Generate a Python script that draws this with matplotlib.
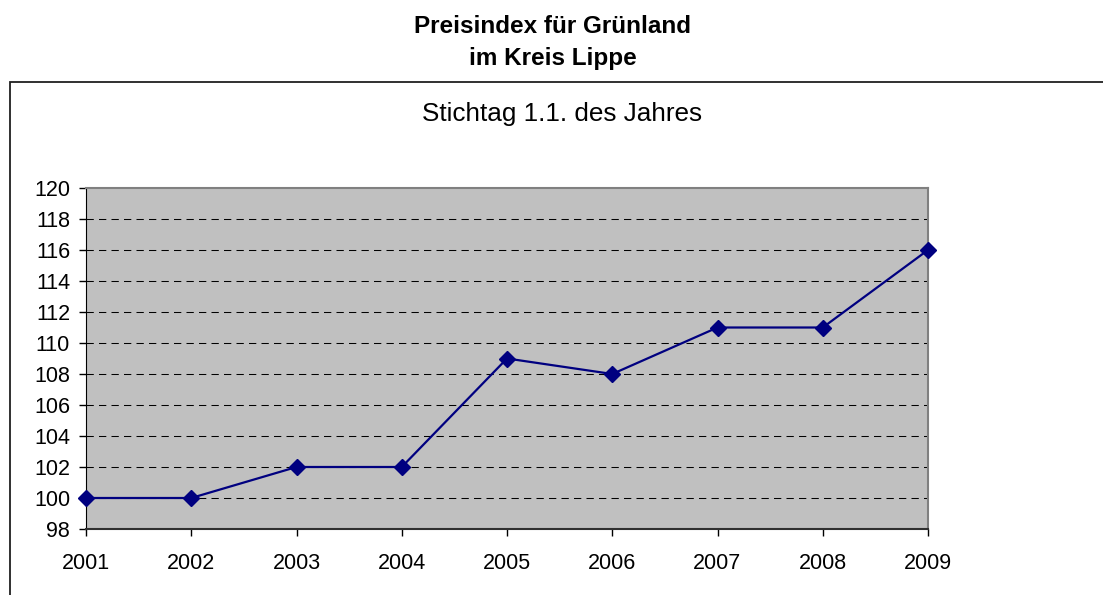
import matplotlib.pyplot as plt
from matplotlib.patches import Rectangle

# Data
years = [2001, 2002, 2003, 2004, 2005, 2006, 2007, 2008, 2009]
index_values = [100, 100, 102, 102, 109, 108, 111, 111, 116]
y_ticks = list(range(98, 121, 2))

plt.rcParams["font.family"] = ["Liberation Sans", "DejaVu Sans"]

W, H = 1103, 595
fig = plt.figure(figsize=(W / 100, H / 100), dpi=100)

# chart frame (runs off the right and bottom edges)
frame = Rectangle((10 / W, -0.1), 1.2, 0.1 + 1 - 82 / H,
                  transform=fig.transFigure, fill=False,
                  edgecolor="#202020", linewidth=1.3)
fig.patches.append(frame)

fig.text(553 / W, 1 - 33 / H, "Preisindex für Grünland", ha="center", va="baseline",
         fontsize=17.5, fontweight="bold")
fig.text(553 / W, 1 - 65 / H, "im Kreis Lippe", ha="center", va="baseline",
         fontsize=17.5, fontweight="bold")
fig.text(562 / W, 1 - 121 / H, "Stichtag 1.1. des Jahres", ha="center",
         va="baseline", fontsize=18.8)

ax = fig.add_axes([86 / W, 1 - 529 / H, (928 - 86) / W, (529 - 188) / H])
ax.set_facecolor("#C0C0C0")

# grid lines
for y in y_ticks[1:-1]:
    ax.axhline(y, color="black", linewidth=0.75, linestyle=(0, (7, 5)), zorder=1)

ax.plot(years, index_values, color="#000080", linewidth=1.6, marker="D",
        markersize=8, zorder=3, clip_on=False)

ax.set_xlim(years[0], years[-1])
ax.set_ylim(98, 120)
ax.set_xticks(years)
ax.set_yticks(y_ticks)
ax.tick_params(axis="both", labelsize=15.5, direction="out", length=5, width=1)
ax.tick_params(axis="y", pad=6.5)
ax.tick_params(axis="x", pad=12)

ax.spines["left"].set_color("black")
ax.spines["bottom"].set_color("#303030")
ax.spines["bottom"].set_linewidth(1.5)
ax.spines["top"].set_color("#808080")
ax.spines["right"].set_color("#808080")
ax.spines["top"].set_linewidth(1.5)
ax.spines["right"].set_linewidth(1.5)

fig.savefig("out.png", dpi=100)
